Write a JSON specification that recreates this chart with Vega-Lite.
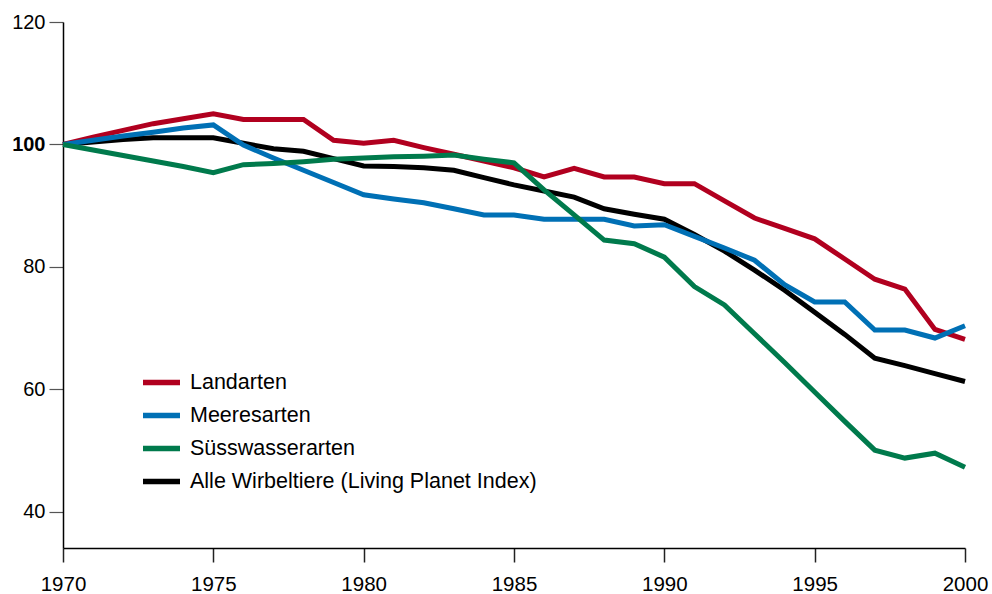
{
  "$schema": "https://vega.github.io/schema/vega-lite/v6.json",
  "width": 902,
  "height": 526,
  "autosize": {"type": "none"},
  "padding": {"left": 63, "top": 22, "right": 27, "bottom": 46},
  "background": "white",
  "config": {
    "view": {"stroke": null},
    "font": "Liberation Sans"
  },
  "data": {
    "values": [
      {"year": 1970, "series": "Landarten", "value": 100},
      {"year": 1971, "series": "Landarten", "value": 101.2},
      {"year": 1972, "series": "Landarten", "value": 102.3},
      {"year": 1973, "series": "Landarten", "value": 103.4},
      {"year": 1974, "series": "Landarten", "value": 104.2},
      {"year": 1975, "series": "Landarten", "value": 105.0},
      {"year": 1976, "series": "Landarten", "value": 104.1},
      {"year": 1977, "series": "Landarten", "value": 104.1},
      {"year": 1978, "series": "Landarten", "value": 104.1},
      {"year": 1979, "series": "Landarten", "value": 100.7},
      {"year": 1980, "series": "Landarten", "value": 100.2},
      {"year": 1981, "series": "Landarten", "value": 100.7},
      {"year": 1982, "series": "Landarten", "value": 99.5},
      {"year": 1983, "series": "Landarten", "value": 98.4},
      {"year": 1984, "series": "Landarten", "value": 97.3},
      {"year": 1985, "series": "Landarten", "value": 96.2},
      {"year": 1986, "series": "Landarten", "value": 94.7},
      {"year": 1987, "series": "Landarten", "value": 96.1},
      {"year": 1988, "series": "Landarten", "value": 94.7},
      {"year": 1989, "series": "Landarten", "value": 94.7},
      {"year": 1990, "series": "Landarten", "value": 93.6},
      {"year": 1991, "series": "Landarten", "value": 93.6},
      {"year": 1992, "series": "Landarten", "value": 90.8},
      {"year": 1993, "series": "Landarten", "value": 88.0},
      {"year": 1994, "series": "Landarten", "value": 86.3},
      {"year": 1995, "series": "Landarten", "value": 84.6},
      {"year": 1996, "series": "Landarten", "value": 81.3},
      {"year": 1997, "series": "Landarten", "value": 78.0},
      {"year": 1998, "series": "Landarten", "value": 76.4},
      {"year": 1999, "series": "Landarten", "value": 69.8},
      {"year": 2000, "series": "Landarten", "value": 68.2},
      {"year": 1970, "series": "Meeresarten", "value": 100},
      {"year": 1971, "series": "Meeresarten", "value": 100.7},
      {"year": 1972, "series": "Meeresarten", "value": 101.4},
      {"year": 1973, "series": "Meeresarten", "value": 102.0},
      {"year": 1974, "series": "Meeresarten", "value": 102.7},
      {"year": 1975, "series": "Meeresarten", "value": 103.2},
      {"year": 1976, "series": "Meeresarten", "value": 99.9},
      {"year": 1977, "series": "Meeresarten", "value": 97.8},
      {"year": 1978, "series": "Meeresarten", "value": 95.8},
      {"year": 1979, "series": "Meeresarten", "value": 93.8},
      {"year": 1980, "series": "Meeresarten", "value": 91.8},
      {"year": 1981, "series": "Meeresarten", "value": 91.1},
      {"year": 1982, "series": "Meeresarten", "value": 90.5},
      {"year": 1983, "series": "Meeresarten", "value": 89.5},
      {"year": 1984, "series": "Meeresarten", "value": 88.5},
      {"year": 1985, "series": "Meeresarten", "value": 88.5},
      {"year": 1986, "series": "Meeresarten", "value": 87.8},
      {"year": 1987, "series": "Meeresarten", "value": 87.8},
      {"year": 1988, "series": "Meeresarten", "value": 87.8},
      {"year": 1989, "series": "Meeresarten", "value": 86.7},
      {"year": 1990, "series": "Meeresarten", "value": 86.9},
      {"year": 1991, "series": "Meeresarten", "value": 85.0},
      {"year": 1992, "series": "Meeresarten", "value": 83.1},
      {"year": 1993, "series": "Meeresarten", "value": 81.1},
      {"year": 1994, "series": "Meeresarten", "value": 77.1},
      {"year": 1995, "series": "Meeresarten", "value": 74.3},
      {"year": 1996, "series": "Meeresarten", "value": 74.3},
      {"year": 1997, "series": "Meeresarten", "value": 69.7},
      {"year": 1998, "series": "Meeresarten", "value": 69.7},
      {"year": 1999, "series": "Meeresarten", "value": 68.4},
      {"year": 2000, "series": "Meeresarten", "value": 70.4},
      {"year": 1970, "series": "Süsswasserarten", "value": 100},
      {"year": 1971, "series": "Süsswasserarten", "value": 99.1},
      {"year": 1972, "series": "Süsswasserarten", "value": 98.2},
      {"year": 1973, "series": "Süsswasserarten", "value": 97.3},
      {"year": 1974, "series": "Süsswasserarten", "value": 96.4},
      {"year": 1975, "series": "Süsswasserarten", "value": 95.4},
      {"year": 1976, "series": "Süsswasserarten", "value": 96.7},
      {"year": 1977, "series": "Süsswasserarten", "value": 96.9},
      {"year": 1978, "series": "Süsswasserarten", "value": 97.2},
      {"year": 1979, "series": "Süsswasserarten", "value": 97.6},
      {"year": 1980, "series": "Süsswasserarten", "value": 97.8},
      {"year": 1981, "series": "Süsswasserarten", "value": 98.0},
      {"year": 1982, "series": "Süsswasserarten", "value": 98.1},
      {"year": 1983, "series": "Süsswasserarten", "value": 98.3},
      {"year": 1984, "series": "Süsswasserarten", "value": 97.6},
      {"year": 1985, "series": "Süsswasserarten", "value": 97.0},
      {"year": 1986, "series": "Süsswasserarten", "value": 92.6},
      {"year": 1987, "series": "Süsswasserarten", "value": 88.5},
      {"year": 1988, "series": "Süsswasserarten", "value": 84.4},
      {"year": 1989, "series": "Süsswasserarten", "value": 83.8},
      {"year": 1990, "series": "Süsswasserarten", "value": 81.6},
      {"year": 1991, "series": "Süsswasserarten", "value": 76.8},
      {"year": 1992, "series": "Süsswasserarten", "value": 73.8},
      {"year": 1993, "series": "Süsswasserarten", "value": 69.1},
      {"year": 1994, "series": "Süsswasserarten", "value": 64.4},
      {"year": 1995, "series": "Süsswasserarten", "value": 59.6},
      {"year": 1996, "series": "Süsswasserarten", "value": 54.8},
      {"year": 1997, "series": "Süsswasserarten", "value": 50.1},
      {"year": 1998, "series": "Süsswasserarten", "value": 48.8},
      {"year": 1999, "series": "Süsswasserarten", "value": 49.6},
      {"year": 2000, "series": "Süsswasserarten", "value": 47.3},
      {"year": 1970, "series": "Alle Wirbeltiere (Living Planet Index)", "value": 100},
      {"year": 1971, "series": "Alle Wirbeltiere (Living Planet Index)", "value": 100.4},
      {"year": 1972, "series": "Alle Wirbeltiere (Living Planet Index)", "value": 100.8},
      {"year": 1973, "series": "Alle Wirbeltiere (Living Planet Index)", "value": 101.1},
      {"year": 1974, "series": "Alle Wirbeltiere (Living Planet Index)", "value": 101.1},
      {"year": 1975, "series": "Alle Wirbeltiere (Living Planet Index)", "value": 101.1},
      {"year": 1976, "series": "Alle Wirbeltiere (Living Planet Index)", "value": 100.2},
      {"year": 1977, "series": "Alle Wirbeltiere (Living Planet Index)", "value": 99.3},
      {"year": 1978, "series": "Alle Wirbeltiere (Living Planet Index)", "value": 98.9},
      {"year": 1979, "series": "Alle Wirbeltiere (Living Planet Index)", "value": 97.7},
      {"year": 1980, "series": "Alle Wirbeltiere (Living Planet Index)", "value": 96.5},
      {"year": 1981, "series": "Alle Wirbeltiere (Living Planet Index)", "value": 96.4},
      {"year": 1982, "series": "Alle Wirbeltiere (Living Planet Index)", "value": 96.2},
      {"year": 1983, "series": "Alle Wirbeltiere (Living Planet Index)", "value": 95.8},
      {"year": 1984, "series": "Alle Wirbeltiere (Living Planet Index)", "value": 94.6},
      {"year": 1985, "series": "Alle Wirbeltiere (Living Planet Index)", "value": 93.4},
      {"year": 1986, "series": "Alle Wirbeltiere (Living Planet Index)", "value": 92.4},
      {"year": 1987, "series": "Alle Wirbeltiere (Living Planet Index)", "value": 91.4},
      {"year": 1988, "series": "Alle Wirbeltiere (Living Planet Index)", "value": 89.5},
      {"year": 1989, "series": "Alle Wirbeltiere (Living Planet Index)", "value": 88.6},
      {"year": 1990, "series": "Alle Wirbeltiere (Living Planet Index)", "value": 87.8},
      {"year": 1991, "series": "Alle Wirbeltiere (Living Planet Index)", "value": 85.3},
      {"year": 1992, "series": "Alle Wirbeltiere (Living Planet Index)", "value": 82.6},
      {"year": 1993, "series": "Alle Wirbeltiere (Living Planet Index)", "value": 79.5},
      {"year": 1994, "series": "Alle Wirbeltiere (Living Planet Index)", "value": 76.2},
      {"year": 1995, "series": "Alle Wirbeltiere (Living Planet Index)", "value": 72.6},
      {"year": 1996, "series": "Alle Wirbeltiere (Living Planet Index)", "value": 69.0},
      {"year": 1997, "series": "Alle Wirbeltiere (Living Planet Index)", "value": 65.1},
      {"year": 1998, "series": "Alle Wirbeltiere (Living Planet Index)", "value": 63.9},
      {"year": 1999, "series": "Alle Wirbeltiere (Living Planet Index)", "value": 62.6},
      {"year": 2000, "series": "Alle Wirbeltiere (Living Planet Index)", "value": 61.3}
    ]
  },
  "encoding": {
    "x": {
      "field": "year",
      "type": "quantitative",
      "scale": {"domain": [1970, 2000], "nice": false, "zero": false},
      "axis": {
        "title": null,
        "values": [1970, 1975, 1980, 1985, 1990, 1995, 2000],
        "format": "d",
        "grid": false,
        "domainColor": "#000000",
        "domainWidth": 1.5,
        "tickColor": "#222222",
        "tickWidth": 1.5,
        "tickSize": 14,
        "labelFontSize": 20.5,
        "labelColor": "#000000",
        "labelPadding": 12,
        "labelFlush": false,
        "labelOverlap": false
      }
    },
    "y": {
      "field": "value",
      "type": "quantitative",
      "scale": {"domain": [34.12, 120], "nice": false, "zero": false},
      "axis": {
        "title": null,
        "values": [40, 60, 80, 100, 120],
        "grid": false,
        "domainColor": "#000000",
        "domainWidth": 1.5,
        "tickColor": "#555555",
        "tickWidth": 1.2,
        "tickSize": 14,
        "labelFontSize": 20,
        "labelColor": "#000000",
        "labelPadding": 4,
        "labelOverlap": false,
        "labelFontWeight": {"condition": {"test": "datum.value == 100", "value": "bold"}, "value": "normal"}
      }
    },
    "color": {
      "field": "series",
      "type": "nominal",
      "scale": {
        "domain": ["Landarten", "Meeresarten", "Süsswasserarten", "Alle Wirbeltiere (Living Planet Index)"],
        "range": ["#b1001f", "#0070b5", "#007a4c", "#000000"]
      },
      "legend": {
        "title": null,
        "orient": "none",
        "legendX": 77,
        "legendY": 339,
        "padding": 0,
        "symbolType": "stroke",
        "symbolSize": 1369,
        "symbolStrokeWidth": 5.3,
        "labelFontSize": 21.5,
        "labelColor": "#000000",
        "labelOffset": 7,
        "labelLimit": 0,
        "rowPadding": -3.5
      }
    }
  },
  "layer": [
    {
      "transform": [{"filter": "datum.series == 'Alle Wirbeltiere (Living Planet Index)'"}],
      "mark": {"type": "line", "strokeWidth": 5, "strokeJoin": "miter"}
    },
    {
      "transform": [{"filter": "datum.series == 'Landarten'"}],
      "mark": {"type": "line", "strokeWidth": 5, "strokeJoin": "miter"}
    },
    {
      "transform": [{"filter": "datum.series == 'Meeresarten'"}],
      "mark": {"type": "line", "strokeWidth": 5, "strokeJoin": "miter"}
    },
    {
      "transform": [{"filter": "datum.series == 'Süsswasserarten'"}],
      "mark": {"type": "line", "strokeWidth": 5, "strokeJoin": "miter"}
    }
  ]
}
